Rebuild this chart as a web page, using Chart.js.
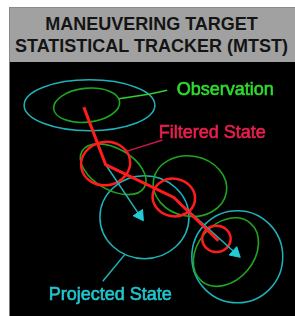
<!DOCTYPE html>
<html>
<head>
<meta charset="utf-8">
<script src="https://cdn.jsdelivr.net/npm/chart.js@4.4.0/dist/chart.umd.min.js"></script>
<style>
  html, body { margin: 0; padding: 0; background: #fff; }
  #page { position: relative; width: 295px; height: 316px; overflow: hidden; }
  #header {
    position: absolute; left: 9px; top: 7px; width: 290px; height: 55px;
    background: #a1a1a1; border-top: 1px solid #8a8a8a; border-left: 1px solid #8a8a8a;
    font: bold 18px "Liberation Sans", Arial, sans-serif; color: #141414;
    text-align: center; line-height: 22px; padding-top: 5px; box-sizing: border-box;
  }
  #header div { margin-left: -6px; }
  #plot { position: absolute; left: 9px; top: 62px; width: 286px; height: 254px; background: #000; border-left: 1px solid #777; box-sizing: border-box; }
</style>
</head>
<body>
<div id="page">
  <div id="header"><div>MANEUVERING TARGET</div><div>STATISTICAL TRACKER (MTST)</div></div>
  <div id="plot"><canvas id="mtst"></canvas></div>
</div>
<script>
// 觀測 / 濾波 / 預測 橢圓 (中心, 半軸, 傾角)
const obsCx = [83, 111, 192, 230];
const obsCy = [100, 168, 186, 256];
const obsRx = [35, 38, 39, 40];
const obsRy = [18, 22, 32, 30];
const obsAng = [-6, 30, 10, -50];

const filCx = [103, 175, 220];
const filCy = [162, 198, 242];
const filRx = [26, 22.5, 15];
const filRy = [23, 20, 14];
const filAng = [-10, 10, 0];

const prjCx = [86, 144, 242];
const prjCy = [100, 219, 261];
const prjRx = [69, 47, 48];
const prjRy = [27, 44, 49];
const prjAng = [0, 0, 0];

// 濾波軌跡
const trackX = [80, 103, 175, 222];
const trackY = [102, 163, 198, 244];

// 預測箭頭
const arrow1X = [103, 139];
const arrow1Y = [163, 217];
const arrow2X = [175, 240];
const arrow2Y = [198, 257];

// 標籤引線
const obsLeadX = [117, 150, 168];
const obsLeadY = [93, 88, 84];
const filLeadX = [125, 163];
const filLeadY = [149, 137];
const prjLeadX = [100, 123];
const prjLeadY = [287, 259];

const labelText = ['Observation', 'Filtered State', 'Projected State'];
const labelX = [178, 159, 43];
const labelY = [89, 135, 307];

function pts(xs, ys) {
    return xs.map((x, i) => ({ x: x, y: ys[i] }));
}

const GREEN = '#1fa51f';
const RED = '#ff1c1c';
const CYAN = '#1fb2ba';

// 以座標軸換算畫橢圓與文字
const ellipsePlugin = {
    id: 'ellipses',
    beforeDatasetsDraw(chart) {
        const c = chart.ctx;
        const xs = chart.scales.x, ys = chart.scales.y;
        function drawSet(cx, cy, rx, ry, ang, color, width) {
            c.save();
            c.strokeStyle = color;
            c.lineWidth = width;
            cx.forEach((v, i) => {
                const px = xs.getPixelForValue(v);
                const py = ys.getPixelForValue(cy[i]);
                const prx = Math.abs(xs.getPixelForValue(v + rx[i]) - px);
                const pry = Math.abs(ys.getPixelForValue(cy[i] + ry[i]) - py);
                c.beginPath();
                c.ellipse(px, py, prx, pry, ang[i] * Math.PI / 180, 0, Math.PI * 2);
                c.stroke();
            });
            c.restore();
        }
        drawSet(prjCx, prjCy, prjRx, prjRy, prjAng, CYAN, 1.5);
        drawSet(obsCx, obsCy, obsRx, obsRy, obsAng, GREEN, 1.6);
        drawSet(filCx, filCy, filRx, filRy, filAng, RED, 2.5);
    },
    afterDatasetsDraw(chart) {
        const c = chart.ctx;
        const xs = chart.scales.x, ys = chart.scales.y;
        const colors = ['#2edc2e', '#e8204e', '#22c6ce'];
        c.save();
        c.font = '18px "Liberation Sans", Arial, sans-serif';
        c.textBaseline = 'alphabetic';
        c.lineWidth = 0.6;
        labelText.forEach((t, i) => {
            const x = xs.getPixelForValue(labelX[i]);
            const y = ys.getPixelForValue(labelY[i]);
            c.fillStyle = colors[i];
            c.strokeStyle = colors[i];
            c.fillText(t, x, y);
            c.strokeText(t, x, y);
        });
        c.restore();
    }
};

new Chart(document.getElementById('mtst'), {
    type: 'scatter',
    data: {
        datasets: [
            { data: pts(obsLeadX, obsLeadY), showLine: true, borderColor: '#2ed02e', borderWidth: 1.5, pointRadius: 0 },
            { data: pts(filLeadX, filLeadY), showLine: true, borderColor: '#c8174a', borderWidth: 1.5, pointRadius: 0 },
            { data: pts(prjLeadX, prjLeadY), showLine: true, borderColor: CYAN, borderWidth: 1.5, pointRadius: 0 },
            { data: pts(trackX, trackY), showLine: true, borderColor: RED, borderWidth: 3, pointRadius: 0 },
            {
                data: pts(arrow1X, arrow1Y), showLine: true, borderColor: CYAN, borderWidth: 1.5,
                pointStyle: 'triangle', pointRadius: [0, 6.5], pointRotation: 146,
                pointBackgroundColor: '#22ccd4', pointBorderColor: '#22ccd4', pointBorderWidth: 1
            },
            {
                data: pts(arrow2X, arrow2Y), showLine: true, borderColor: CYAN, borderWidth: 1.5,
                pointStyle: 'triangle', pointRadius: [0, 6.5], pointRotation: 132,
                pointBackgroundColor: '#22ccd4', pointBorderColor: '#22ccd4', pointBorderWidth: 1
            }
        ]
    },
    options: {
        responsive: true,
        maintainAspectRatio: false,
        animation: false,
        events: [],
        layout: { padding: 0 },
        plugins: { legend: { display: false }, tooltip: { enabled: false }, title: { display: false } },
        scales: {
            x: { type: 'linear', min: 10, max: 295, display: false },
            y: { type: 'linear', min: 62, max: 316, reverse: true, display: false }
        }
    },
    plugins: [ellipsePlugin]
});
</script>
</body>
</html>
